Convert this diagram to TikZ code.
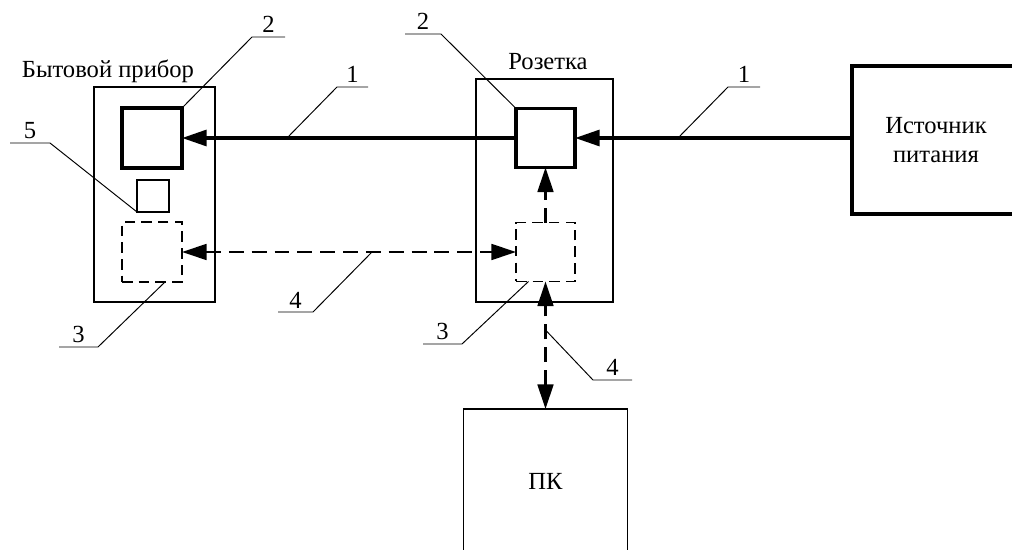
\documentclass[tikz,border=0pt]{standalone}
\usepackage{fontspec}
\setmainfont{Liberation Serif}
\newfontfamily\timesfont{Liberation Serif}
\usetikzlibrary{arrows.meta, calc}

\begin{document}
\begin{tikzpicture}[
    x=0.02cm, y=-0.02cm,
    >={Triangle[length=14pt, width=9pt]},
    every node/.style={font=\timesfont\fontsize{14}{16.4}\selectfont},
    unit/.style 2 args={draw, line width=0.75pt, minimum width=#1, minimum height=#2, inner sep=0pt, outer sep=0pt},
    module/.style={draw, line width=2pt, minimum size=#1, inner sep=0pt, outer sep=0pt},
    dashmod/.style={draw, line width=0.75pt, dash pattern=on 6pt off 3.5pt, minimum size=#1, inner sep=0pt, outer sep=0pt},
    power/.style={line width=2pt},
    link/.style={line width=1.3pt, dash pattern=on 8.5pt off 4.5pt},
    leader/.style={line width=0.55pt},
    num/.style={inner sep=2pt},
]
\clip (0,0) rectangle (1012,550);

% Appliance
\node[unit={2.42cm}{4.3cm}] (appl) at (154.5,194.5) {};
\node[anchor=base] (appllab) at (108,78) {Бытовой прибор};
\node[module=1.2cm] (appmod2) at (152,138) {};
\node[unit={0.64cm}{0.64cm}] (appmod5) at (153,196) {};
\node[dashmod=1.2cm] (appmod3) at (152,252) {};

% Socket
\node[unit={2.74cm}{4.46cm}] (sock) at (544.5,190.5) {};
\node[anchor=base] (socklab) at (548,70) {Розетка};
\node[module=1.18cm] (sockmod2) at (545.5,138) {};
\node[dashmod=1.18cm] (sockmod3) at (545.5,252) {};

% Power source and PC
\node[unit={3.36cm}{2.96cm}, line width=2pt, align=center] (src) at (936,140) {Источник\\питания};
\node[unit={3.28cm}{2.88cm}] (pc) at (545.5,481) {ПК};

% Connections
\draw[power, ->] (src.west |- sockmod2.east) -- (sockmod2.east);
\draw[power, ->] (sockmod2.west) -- (appmod2.east);
\draw[link, <->] (appmod3.east) -- (sockmod3.west);
\draw[link, ->] (sockmod3.north) -- (sockmod2.south);
\draw[link, <->] (pc.north) -- (sockmod3.south);

% Leaders
\coordinate (l1a) at (287,138);
\coordinate (l1b) at (678,138);
\coordinate (l4a) at (372,252);
\coordinate (l4b) at (545.5,330);
\draw[leader] (appmod2.north east) -- (252,37) -- (285,37) node[num, midway, above] (n2a) {2};
\draw[leader] (appmod5.south west) -- (50,143) -- (10,143) node[num, midway, above] (n5) {5};
\draw[leader] ($(appmod3.south)+(13,0)$) -- (98,347) -- (59,347) node[num, midway, above] (n3a) {3};
\draw[leader] (l1a) -- (337,87) -- (368,87) node[num, midway, above] (n1a) {1};
\draw[leader] (sockmod2.north west) -- (441,34) -- (405,34) node[num, midway, above] (n2b) {2};
\draw[leader] (l1b) -- (728,87) -- (760,87) node[num, midway, above] (n1b) {1};
\draw[leader] (l4a) -- (313,312) -- (278,312) node[num, midway, above] (n4a) {4};
\draw[leader] ($(sockmod3.south)+(-17,0)$) -- (462,344) -- (423,344) node[num, midway, above] (n3b) {3};
\draw[leader] (l4b) -- (593,380) -- (632,380) node[num, midway, above] (n4b) {4};

\end{tikzpicture}
\end{document}
